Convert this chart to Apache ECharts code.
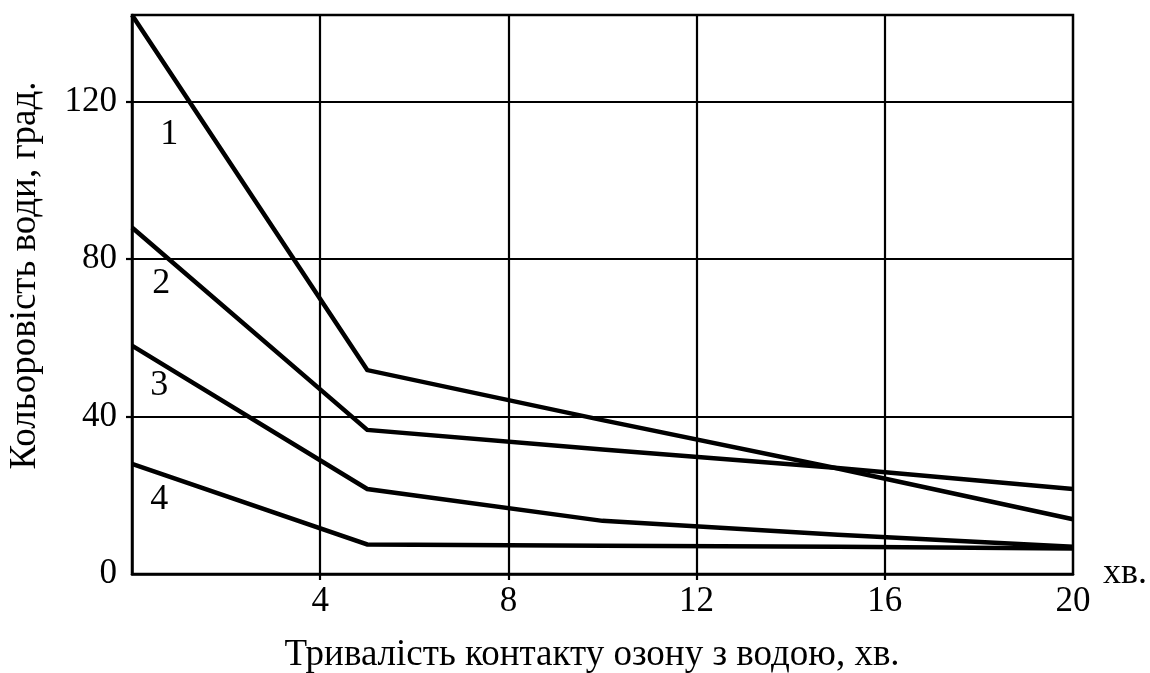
<!DOCTYPE html>
<html>
<head>
<meta charset="utf-8">
<script src="https://cdn.jsdelivr.net/npm/echarts@6/dist/echarts.min.js"></script>
<style>
html,body{margin:0;padding:0;background:#fff;}
#chart{width:1150px;height:673px;}
</style>
</head>
<body>
<div id="chart"></div>
<script>
// ---- data ----
const xValues = [0, 5, 10, 15, 20];
const curve1 = [142, 51.8, 39.1, 26.8, 13.9];
const curve2 = [88, 36.6, 31.6, 26.9, 21.6];
const curve3 = [58, 21.6, 13.5, 10.0, 6.9];
const curve4 = [28, 7.5, 7.2, 6.9, 6.5];
const curveNames = ['1', '2', '3', '4'];
// label anchor positions for curve numbers (data coords)
const curveLabelPos = [[0.79, 111.6], [0.62, 73.8], [0.58, 47.9], [0.58, 18.8]];
const xTickValues = [4, 8, 12, 16];
const xLabelValues = [4, 8, 12, 16, 20];
const yTickValues = [40, 80, 120];
const yLabelValues = [0, 40, 80, 120];
const xAxisTitle = 'Тривалість контакту озону з водою, хв.';
const yAxisTitle = 'Кольоровість води, град.';
const xUnit = 'хв.';

const FONT = '"Liberation Serif", "DejaVu Serif", serif';
const allCurves = [curve1, curve2, curve3, curve4];

const chart = echarts.init(document.getElementById('chart'), null, {renderer: 'canvas'});

const series = allCurves.map((vals, i) => ({
  type: 'line',
  name: curveNames[i],
  data: xValues.map((x, j) => [x, vals[j]]),
  symbol: 'none',
  smooth: false,
  lineStyle: {color: '#000', width: 4.5, join: 'miter'},
  z: 5,
  markPoint: {
    symbol: 'circle',
    symbolSize: 0,
    silent: true,
    label: {
      show: true,
      position: 'inside',
      formatter: curveNames[i],
      color: '#000',
      fontFamily: FONT,
      fontSize: 36
    },
    data: [{coord: curveLabelPos[i]}]
  }
}));

chart.setOption({
  animation: false,
  backgroundColor: '#fff',
  grid: {
    left: 132, right: 76, top: 15, bottom: 99,
    show: true, borderColor: '#000', borderWidth: 2.5, backgroundColor: 'transparent'
  },
  xAxis: {
    type: 'value',
    min: 0, max: 20, interval: 4,
    name: xUnit,
    nameLocation: 'end',
    nameGap: 30,
    nameTextStyle: {fontFamily: FONT, fontSize: 36, color: '#000', verticalAlign: 'middle', padding: [0, 0, 8, 0]},
    axisLine: {show: true, lineStyle: {color: '#000', width: 2.5}},
    axisTick: {show: true, inside: false, length: 6, customValues: xTickValues, lineStyle: {color: '#000', width: 2.2}},
    axisLabel: {show: true, margin: 10, customValues: xLabelValues, fontFamily: FONT, fontSize: 35, color: '#000'},
    splitLine: {show: true, lineStyle: {color: '#000', width: 2.2}}
  },
  yAxis: {
    type: 'value',
    min: 0, max: 142, interval: 40,
    axisLine: {show: true, lineStyle: {color: '#000', width: 2.5}},
    axisTick: {show: true, inside: false, length: 6, customValues: yTickValues, lineStyle: {color: '#000', width: 2.2}},
    axisLabel: {show: true, margin: 15, customValues: yLabelValues, fontFamily: FONT, fontSize: 35, color: '#000'},
    splitLine: {show: true, lineStyle: {color: '#000', width: 2.2}}
  },
  graphic: [
    {
      type: 'text',
      x: 592, y: 655,
      style: {text: xAxisTitle, font: '37px ' + FONT, fill: '#000', textAlign: 'center', textVerticalAlign: 'middle'}
    },
    {
      type: 'text',
      x: 25, y: 275.5,
      rotation: Math.PI / 2,
      style: {text: yAxisTitle, font: '37px ' + FONT, fill: '#000', textAlign: 'center', textVerticalAlign: 'middle'}
    }
  ],
  series: series
});
</script>
</body>
</html>
